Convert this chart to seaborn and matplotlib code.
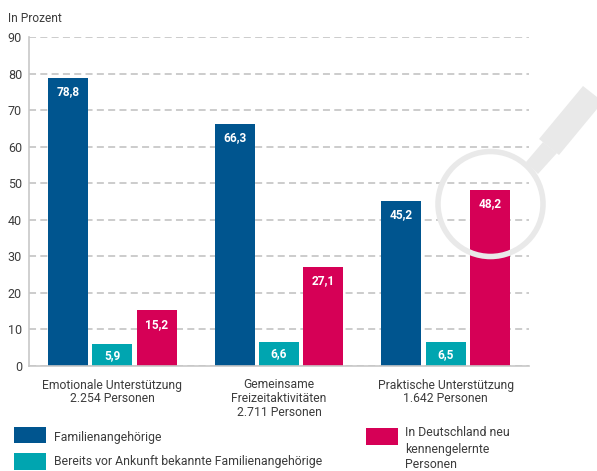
import matplotlib
matplotlib.use("Agg")
import matplotlib.pyplot as plt
import seaborn as sns
import pandas as pd
from matplotlib.patches import Ellipse, Polygon, Rectangle

categories = ["Emotionale Unterstützung\n2.254 Personen",
              "Gemeinsame\nFreizeitaktivitäten\n2.711 Personen",
              "Praktische Unterstützung\n1.642 Personen"]
series_names = ["Familienangehörige",
                "Bereits vor Ankunft bekannte Familienangehörige",
                "In Deutschland neu\nkennengelernte\nPersonen"]
familie = [78.8, 66.3, 45.2]
bekannt = [5.9, 6.6, 6.5]
neu = [15.2, 27.1, 48.2]
colors = ["#00558f", "#00a5b0", "#d60056"]
yticks = [0, 10, 20, 30, 40, 50, 60, 70, 80, 90]

df = pd.DataFrame({
    "cat": categories * 3,
    "serie": [series_names[0]] * 3 + [series_names[1]] * 3 + [series_names[2]] * 3,
    "wert": familie + bekannt + neu,
})

sns.set_theme(style="white")
plt.rcParams["font.family"] = ["Roboto", "DejaVu Sans"]
W, H = 597, 471
fig = plt.figure(figsize=(W / 100, H / 100), dpi=100, facecolor="white")
ax = fig.add_axes([29 / W, 1 - 366 / H, 500 / W, 329 / H])
ax.patch.set_alpha(0)


def fx(x):
    return x / W


def fy(y):
    return 1 - y / H


# magnifier decoration
grey = "#e9e9e9"
fig.add_artist(Polygon([(fx(539), fy(139)), (fx(583), fy(86)), (fx(597), fy(97)),
                        (fx(597), fy(109)), (fx(559), fy(155))],
                       closed=True, transform=fig.transFigure, fc=grey, ec="none", zorder=-1))
fig.add_artist(Polygon([(fx(526), fy(162)), (fx(543), fy(142)), (fx(557), fy(153)), (fx(538), fy(174))],
                       closed=True, transform=fig.transFigure, fc=grey, ec="none", zorder=-1))
fig.add_artist(Ellipse((fx(490.5), fy(204)), 105 / W, 105 / H, transform=fig.transFigure,
                       fc="none", ec=grey, lw=4, zorder=2))

sns.barplot(data=df, x="cat", y="wert", hue="serie", palette=colors, width=0.8, gap=0.1,
            saturation=1, ax=ax, legend=False, linewidth=0, edgecolor="none")

ax.set_xlim(-0.5, 2.5)
ax.set_ylim(0, 90)
ax.set_yticks(yticks)
ax.set_xlabel("")
ax.set_ylabel("")
ax.yaxis.grid(True, color="#bfbfbf", lw=1.1, dashes=(4.6, 2.8))
ax.set_axisbelow(True)
ax.tick_params(axis="y", length=0, pad=5, labelsize=9, labelcolor="#3c3c3c")
ax.tick_params(axis="x", length=0, pad=9, labelsize=8.7, labelcolor="#3c3c3c")
for lab in ax.get_xticklabels():
    lab.set_linespacing(1.08)
    lab.set_x(lab.get_position()[0])
for s in ["top", "right"]:
    ax.spines[s].set_visible(False)
for s in ["left", "bottom"]:
    ax.spines[s].set_color("#c8c8c8")
    ax.spines[s].set_linewidth(1.2)

for container in ax.containers:
    for patch in container:
        h = patch.get_height()
        small = h < 10
        ax.annotate(f"{h:.1f}".replace(".", ","),
                    (patch.get_x() + patch.get_width() / 2, h / 2 if small else h),
                    xytext=(0, 0 if small else -14), textcoords="offset pixels",
                    ha="center", va="center",
                    color="white", fontsize=8.6, fontweight="bold", zorder=5)

fig.text(8 / W, fy(18), "In Prozent", fontsize=8.6, color="#3c3c3c", va="center")

# legend
for (x0, y0, y1, c) in [(14, 427, 443, colors[0]), (14, 453, 470, colors[1]), (366, 428, 445, colors[2])]:
    fig.add_artist(Rectangle((fx(x0), fy(y1)), 32 / W, (y1 - y0) / H, transform=fig.transFigure, fc=c, ec="none"))
fig.text(fx(54), fy(437), series_names[0], fontsize=8.8, color="#3c3c3c", va="center")
fig.text(fx(54), fy(462), series_names[1], fontsize=8.8, color="#3c3c3c", va="center")
fig.text(fx(405), fy(449), series_names[2], fontsize=8.8, color="#3c3c3c", va="center", linespacing=1.3)

fig.savefig("out.png", dpi=100)
